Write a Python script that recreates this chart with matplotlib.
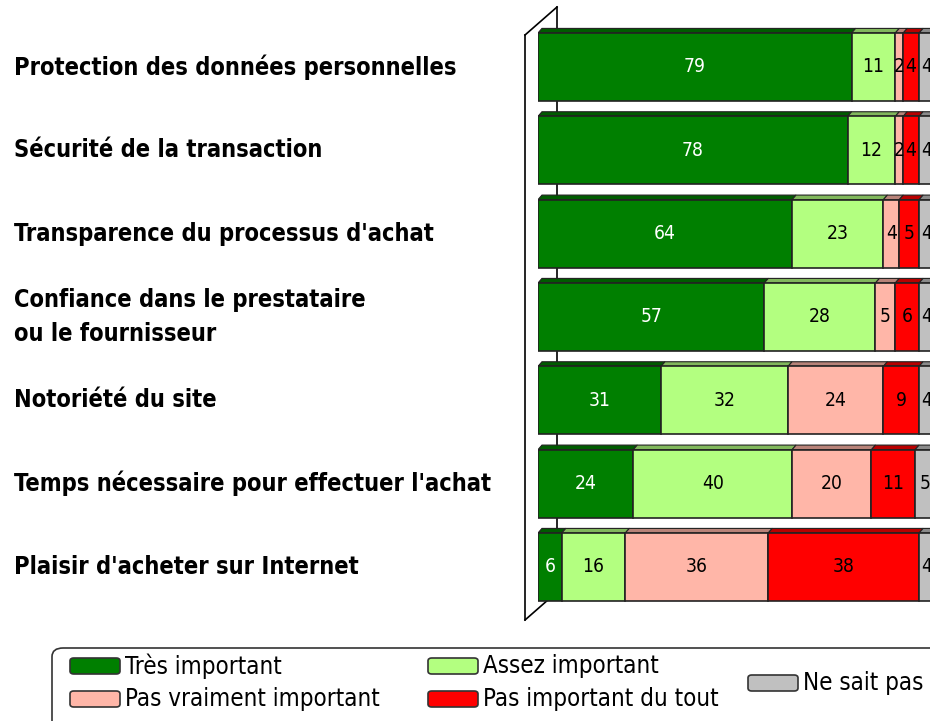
import os
import matplotlib.pyplot as plt
from matplotlib import font_manager as fm
from matplotlib.font_manager import FontProperties
from matplotlib.patches import Polygon, FancyBboxPatch
from matplotlib.transforms import blended_transform_factory
from matplotlib.colors import to_rgb
import numpy as np

categories = ['Protection des données personnelles',
              'Sécurité de la transaction',
              "Transparence du processus d'achat",
              'Confiance dans le prestataire\nou le fournisseur',
              'Notoriété du site',
              "Temps nécessaire pour effectuer l'achat",
              "Plaisir d'acheter sur Internet"]
tres_important = [79, 78, 64, 57, 31, 24, 6]
assez_important = [11, 12, 23, 28, 32, 40, 16]
pas_vraiment = [2, 2, 4, 5, 24, 20, 36]
pas_du_tout = [4, 4, 5, 6, 9, 11, 38]
ne_sait_pas = [4, 4, 4, 4, 4, 5, 4]
series_names = ['Très important', 'Assez important', 'Pas vraiment important',
                'Pas important du tout', 'Ne sait pas']

series = [tres_important, assez_important, pas_vraiment, pas_du_tout, ne_sait_pas]
colors = ['#007F00', '#B3FF80', '#FFB6A8', '#FF0000', '#C0C0C0']
text_colors = ['white', 'black', 'black', 'black', 'black']


def find_font(keys, bold):
    # look for a narrow / condensed face among the installed fonts
    for key in keys:
        for f in fm.fontManager.ttflist:
            base = os.path.basename(f.fname)
            if key in base and ('Bold' in base) == bold and 'Italic' not in base \
                    and 'Oblique' not in base:
                return f.fname
    return None


narrow = ['LiberationSansNarrow', 'DejaVuSansCondensed', 'RobotoCondensed', 'OpenSans_Condensed']
bold_path = find_font(narrow, True)
reg_path = find_font(narrow, False)


def fprops(path, bold):
    if path:
        return FontProperties(fname=path)
    return FontProperties(family='DejaVu Sans', weight='bold' if bold else 'normal')


def darker(c, f=0.6):
    r, g, b = to_rgb(c)
    return (r * f, g * f, b * f)


def fit(texts, ref, target_px, fig):
    # rescale a group of texts so that `ref` is target_px wide
    fig.canvas.draw()
    w = ref.get_window_extent().width
    for t in texts:
        t.set_fontsize(t.get_fontsize() * target_px / w)


W, H = 930, 721
fig = plt.figure(figsize=(W / 100, H / 100), dpi=100)
ax = fig.add_axes([538 / W, 1 - 640 / H, 397 / W, 640 / H])
ax.set_xlim(0, 100)
ax.set_ylim(6.876, -0.804)
ax.axis('off')

y = np.arange(len(categories))
h = 0.816
dx, dy = 1.0, 0.055

# stacked bars with a thin 3d top face
value_texts = []
left = np.zeros(len(categories))
for vals, col, tcol in zip(series, colors, text_colors):
    vals = np.array(vals, dtype=float)
    ax.barh(y, vals, left=left, height=h, color=col, edgecolor='#222222',
            linewidth=1.2, zorder=3)
    for i in range(len(y)):
        l, v, top = left[i], vals[i], y[i] - h / 2
        ax.add_patch(Polygon([(l, top), (l + dx, top - dy), (l + v + dx, top - dy), (l + v, top)],
                             closed=True, facecolor=darker(col, 0.72), edgecolor='#222222',
                             linewidth=0.8, zorder=2))
        t = ax.text(l + v / 2, y[i], '%d' % v, ha='center', va='center', color=tcol,
                    fontproperties=fprops(reg_path, False), fontsize=15, zorder=5)
        value_texts.append(t)
    left += vals

# side wall of the 3d frame
wall = dict(color='black', linewidth=1.2, clip_on=False, zorder=1)
ax.plot([-3.27, -3.27], [-0.384, 6.636], **wall)
ax.plot([-3.27, 4.79], [-0.384, -0.72], **wall)
ax.plot([4.79, 4.79], [-0.72, 6.30], **wall)
ax.plot([-3.27, 4.79], [6.636, 6.30], **wall)

# category labels
tr = blended_transform_factory(fig.transFigure, ax.transData)
cat_texts = []
for yi, cat in zip(y, categories):
    t = ax.text(14 / W, yi, cat, transform=tr, ha='left', va='center',
                fontproperties=fprops(bold_path, True), fontsize=18,
                linespacing=1.5, clip_on=False)
    cat_texts.append(t)

# legend box
fig.add_artist(FancyBboxPatch((52 / W, -0.03), 1.1 - 52 / W, 1 - 648 / H + 0.03,
                              boxstyle='round,pad=0,rounding_size=0.012',
                              transform=fig.transFigure, facecolor='white',
                              edgecolor='#333333', linewidth=1.2))

legend_pos = [(70, 666), (428, 666), (70, 699), (428, 699), (748, 683)]
leg_texts = []
for name, col, (px, py) in zip(series_names, colors, legend_pos):
    fig.add_artist(FancyBboxPatch((px / W, 1 - (py + 8) / H), 50 / W, 16 / H,
                                  boxstyle='round,pad=0,rounding_size=0.004',
                                  transform=fig.transFigure, facecolor=col,
                                  edgecolor='#333333', linewidth=1.2))
    t = fig.text((px + 55) / W, 1 - py / H, name, ha='left', va='center',
                 fontproperties=fprops(reg_path, False), fontsize=17)
    leg_texts.append(t)

fit(cat_texts, cat_texts[5], 479, fig)
fit(leg_texts, leg_texts[2], 253, fig)
fit(value_texts, value_texts[len(categories) + 5], 22, fig)  # the "40" label

fig.savefig('out.png', dpi=100)
